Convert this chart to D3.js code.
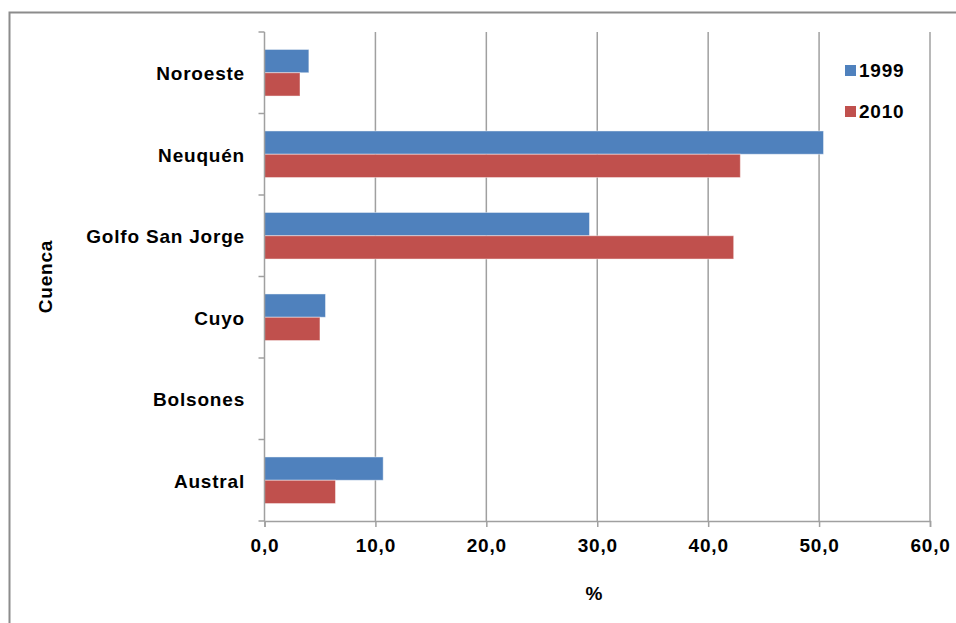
<!DOCTYPE html>
<html>
<head>
<meta charset="utf-8">
<script src="https://cdn.jsdelivr.net/npm/d3@7"></script>
<style>
  html, body { margin: 0; padding: 0; background: #fff; }
  svg { display: block; }
  text { font-family: "Liberation Sans", Arial, sans-serif; font-weight: bold; fill: #000; letter-spacing: 0.8px; }
</style>
</head>
<body>
<svg id="chart" width="956" height="623"></svg>
<script>
// Participación por cuenca (%), 1999 y 2010
const categories = ["Noroeste", "Neuquén", "Golfo San Jorge", "Cuyo", "Bolsones", "Austral"];
const seriesNames = ["1999", "2010"];
const values1999 = [4.0, 50.4, 29.3, 5.5, 0.0, 10.7];
const values2010 = [3.2, 42.9, 42.3, 5.0, 0.0, 6.4];
const xTicks = [0, 10, 20, 30, 40, 50, 60];
const xTitle = "%";
const yTitle = "Cuenca";
const colors = ["#4F81BD", "#C0504D"];

const svg = d3.select("#chart");
const W = 956, H = 623;
const plot = { left: 264.5, right: 930, top: 32, bottom: 521 };
const gridColor = "#a0a0a0";
const fmt = d => d.toFixed(1).replace(".", ",");

// outer frame
svg.append("rect")
  .attr("x", 9.5).attr("y", 12.5)
  .attr("width", W + 20).attr("height", H + 20)
  .attr("fill", "none").attr("stroke", "#8c8c8c").attr("stroke-width", 2);

const x = d3.scaleLinear().domain([0, 60]).range([plot.left, plot.right]);
const y = d3.scaleBand().domain(categories).range([plot.top, plot.bottom]).padding(0);
const yInner = d3.scaleBand().domain(seriesNames).range([0, y.bandwidth()])
  .paddingInner(0).paddingOuter(0.75);

// vertical gridlines
svg.append("g").selectAll("line").data(xTicks.slice(1)).join("line")
  .attr("x1", d => x(d)).attr("x2", d => x(d))
  .attr("y1", plot.top).attr("y2", plot.bottom)
  .attr("stroke", gridColor).attr("stroke-width", 1.5);

// x axis
const xAxis = svg.append("g")
  .attr("transform", `translate(0,${plot.bottom})`)
  .call(d3.axisBottom(x).tickValues(xTicks).tickFormat(fmt).tickSize(6).tickPadding(12));
xAxis.select(".domain").attr("stroke", gridColor).attr("stroke-width", 1.5);
xAxis.selectAll(".tick line").attr("stroke", gridColor).attr("stroke-width", 1.5);
xAxis.selectAll(".tick text")
  .attr("font-family", "Liberation Sans, Arial, sans-serif")
  .attr("font-weight", "bold").attr("font-size", 19).attr("fill", "#000");

// bars
const rows = categories.map((c, i) => ({ cat: c, vals: [values1999[i], values2010[i]] }));
const groups = svg.append("g").selectAll("g").data(rows).join("g")
  .attr("transform", d => `translate(0,${y(d.cat)})`);
groups.selectAll("rect")
  .data(d => d.vals.map((v, j) => ({ key: seriesNames[j], v, j })))
  .join("rect")
  .filter(d => d.v > 0)
  .attr("x", x(0))
  .attr("y", d => yInner(d.key))
  .attr("width", d => x(d.v) - x(0))
  .attr("height", yInner.bandwidth())
  .attr("fill", d => colors[d.j])
  .attr("stroke", "rgba(255,255,255,0.45)").attr("stroke-width", 1);

// y axis line and boundary ticks
const yBounds = categories.map(c => y(c)).concat([plot.bottom]);
svg.append("line")
  .attr("x1", plot.left).attr("x2", plot.left)
  .attr("y1", plot.top).attr("y2", plot.bottom)
  .attr("stroke", gridColor).attr("stroke-width", 1.5);
svg.append("g").selectAll("line").data(yBounds).join("line")
  .attr("x1", plot.left - 6).attr("x2", plot.left)
  .attr("y1", d => d).attr("y2", d => d)
  .attr("stroke", gridColor).attr("stroke-width", 1.5);

// category labels
svg.append("g").selectAll("text").data(categories).join("text")
  .attr("x", 245)
  .attr("y", d => y(d) + y.bandwidth() / 2)
  .attr("dy", "0.4em")
  .attr("text-anchor", "end")
  .attr("font-size", 19)
  .text(d => d);

// axis titles
svg.append("text")
  .attr("x", (plot.left + plot.right) / 2 - 3).attr("y", 600)
  .attr("text-anchor", "middle").attr("font-size", 19)
  .text(xTitle);
svg.append("text")
  .attr("transform", `translate(52,${(plot.top + plot.bottom) / 2}) rotate(-90)`)
  .attr("text-anchor", "middle").attr("font-size", 19)
  .text(yTitle);

// legend
const legend = svg.append("g").selectAll("g").data(seriesNames).join("g")
  .attr("transform", (d, i) => `translate(845,${65 + i * 41})`);
legend.append("rect")
  .attr("width", 11).attr("height", 11)
  .attr("fill", (d, i) => colors[i]);
legend.append("text")
  .attr("x", 14).attr("y", 12)
  .attr("font-size", 19).attr("font-weight", "normal")
  .text(d => d);
</script>
</body>
</html>
